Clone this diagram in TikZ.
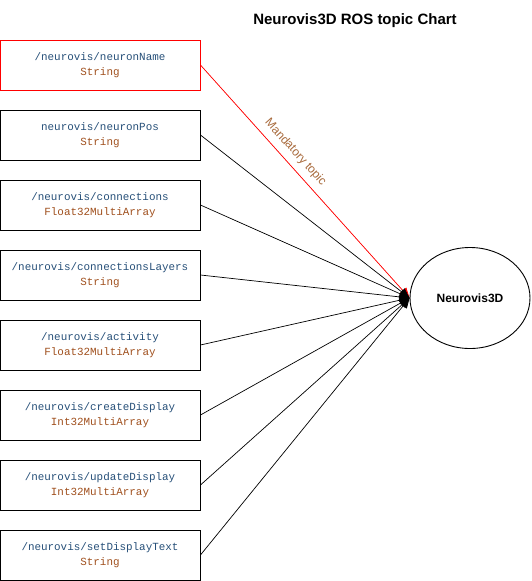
\documentclass[tikz,border=0pt]{standalone}
\usepackage{fontspec}
\setmainfont{Liberation Sans}
\newfontfamily\codefont{Liberation Mono}
\usetikzlibrary{arrows.meta,shapes.geometric}
\definecolor{topicblue}{HTML}{264F78}
\definecolor{typebrown}{HTML}{A0501E}
\definecolor{labelbrown}{HTML}{A86A3C}
\tikzset{
  topicbox/.style={draw=black, line width=0.9pt, minimum width=200pt, minimum height=50pt, inner sep=0pt, align=center, font=\codefont\fontsize{10.9}{15}\selectfont},
  conn/.style={draw=black, line width=0.7pt, -{Triangle[length=10pt,width=9pt]}},
}
\newcommand{\topic}[2]{\textcolor{topicblue}{#1}\\\textcolor{typebrown}{#2}}
\begin{document}
\begin{tikzpicture}[x=1pt,y=-1pt]
\useasboundingbox (0,0) rectangle (531,581);
\node[font=\bfseries\fontsize{15}{18}\selectfont] (title) at (355,21) {Neurovis3D ROS topic Chart};
\node[topicbox, draw=red] (t1) at (100,65) {\topic{/neurovis/neuronName}{String}};
\node[topicbox] (t2) at (100,135) {\topic{neurovis/neuronPos}{String}};
\node[topicbox] (t3) at (100,205) {\topic{/neurovis/connections}{Float32MultiArray}};
\node[topicbox] (t4) at (100,275) {\topic{/neurovis/connectionsLayers}{String}};
\node[topicbox] (t5) at (100,345) {\topic{/neurovis/activity}{Float32MultiArray}};
\node[topicbox] (t6) at (100,415) {\topic{/neurovis/createDisplay}{Int32MultiArray}};
\node[topicbox] (t7) at (100,485) {\topic{/neurovis/updateDisplay}{Int32MultiArray}};
\node[topicbox] (t8) at (100,555) {\topic{/neurovis/setDisplayText}{String}};
\node[draw, ellipse, line width=0.9pt, minimum width=120pt, minimum height=101pt, inner sep=0pt, font=\bfseries\fontsize{12}{14}\selectfont] (n3d) at (470,298) {Neurovis3D};
\draw[conn, draw=red, fill=red] (t1.east) -- (n3d.west) node[pos=0.41, sloped, above=3pt, text=labelbrown, font=\fontsize{12}{14}\selectfont] (mand) {Mandatory topic};
\foreach \i in {2,...,8} {
  \draw[conn] (t\i.east) -- (n3d.west);
}
\end{tikzpicture}
\end{document}
